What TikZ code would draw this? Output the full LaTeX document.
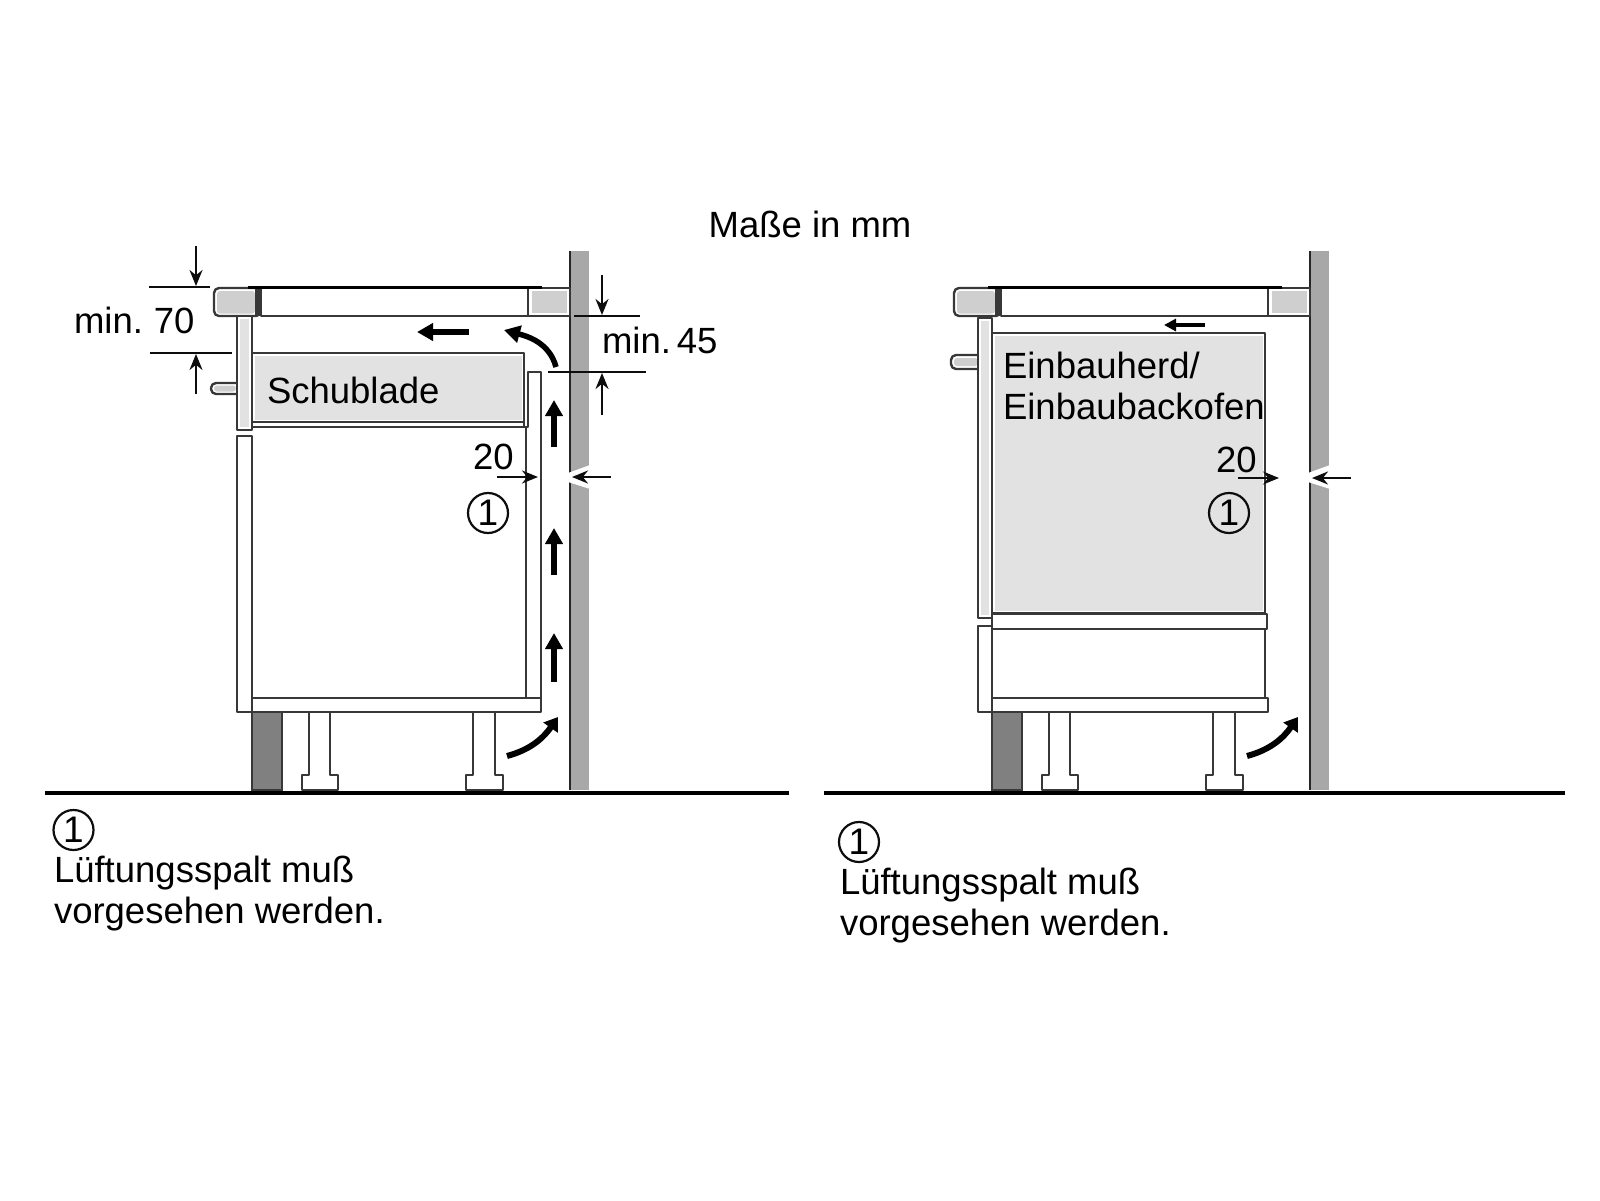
\documentclass[tikz,border=0pt]{standalone}
\usepackage{fontspec}
\setmainfont{Liberation Sans}
\usetikzlibrary{arrows.meta}
\definecolor{ln}{gray}{0.22}
\definecolor{dimk}{gray}{0.05}
\definecolor{wallg}{gray}{0.66}
\definecolor{blockg}{gray}{0.81}
\definecolor{panelg}{gray}{0.885}
\definecolor{darkg}{gray}{0.5}
\tikzset{
  part/.style={draw=ln,line width=2.4pt,fill=white,line join=round},
  plainline/.style={draw=ln,line width=2.4pt},
  dimline/.style={draw=dimk,line width=2.8pt},
  dimarrow/.style={draw=dimk,line width=2.2pt,-{Stealth[length=16pt,width=13pt]}},
  airup/.style={draw=black,line width=5.5pt,-{Triangle[length=16pt,width=17pt]}},
  airsmall/.style={draw=black,line width=6pt,-{Triangle[length=13pt,width=17pt]}},
  label/.style={anchor=base west,inner sep=0pt,outer sep=0pt,text=black,font=\fontsize{36.5}{40}\selectfont},
  numcircle/.style={circle,draw=dimk,line width=2.2pt,minimum size=40pt,inner sep=0pt,text=black,font=\fontsize{37}{38}\selectfont},
}
\newcommand{\kitchenbase}{%
  % wall
  \fill[wallg] (571,251) rectangle (589,790);
  \draw[plainline,draw=black!85] (570,251) -- (570,790);
  \fill[white] (568,473) -- (590,465) -- (590,489) -- (568,482) -- cycle;
  % hob and worktop
  \path[part,rounded corners=5pt] (214,316) -- (214,288) -- (261,288) -- (261,316) -- cycle;
  \fill[blockg,rounded corners=3pt] (217,313.5) -- (217,291) -- (255,291) -- (255,313.5) -- cycle;
  \fill[ln] (255,288) rectangle (261,316);
  \path[part] (261,288) rectangle (528,316);
  \path[part] (528,288) rectangle (570,316);
  \fill[blockg] (532,291) rectangle (567,313);
  \draw[draw=black,line width=3pt] (248,287) -- (542,287);
  % plinth
  \path[draw=ln,line width=2.4pt,fill=darkg] (252,712) rectangle (282,790);
  % feet
  \path[part] (309,712) -- (309,775) -- (302,775) -- (302,790) -- (338,790) -- (338,775) -- (330,775) -- (330,712);
  \path[part] (473,712) -- (473,775) -- (466,775) -- (466,790) -- (503,790) -- (503,775) -- (495,775) -- (495,712);
  % incoming air
  \draw[airsmall] (507,756) to[out=15,in=-125] (558,717);
}
\begin{document}
\begin{tikzpicture}[x=1pt,y=-1pt]
\useasboundingbox (0,0) rectangle (1600,1200);
\fill[white] (0,0) rectangle (1600,1200);

%% ---------- left installation ----------
\kitchenbase
\draw[draw=black,line width=4.8pt] (45,793) -- (789,793);
% handle
\path[part,rounded corners=5pt] (237,383) -- (211,383) -- (211,394) -- (237,394);
\fill[blockg,rounded corners=3pt] (214,385.5) rectangle (236,391.5);
% front panels
\path[part] (237,316) rectangle (252,430);
\fill[panelg] (240,319) rectangle (249,427);
\path[part] (237,436) rectangle (252,712);
% drawer
\path[part] (252,353) rectangle (524,422);
\fill[panelg] (254.5,356) rectangle (521.5,419.5);
\draw[plainline] (252,427) -- (526,427);
\draw[plainline] (524,422) -- (524,427);
% cabinet side / back
\path[part] (528,427) -- (528,372) -- (541,372) -- (541,698) -- (526,698) -- (526,427) -- cycle;
\path[part] (252,698) rectangle (541,712);

% air arrows
\coordinate (ua1) at (554,447); \coordinate (ub1) at (554,400);
\coordinate (ua2) at (554,575); \coordinate (ub2) at (554,528);
\coordinate (ua3) at (554,682); \coordinate (ub3) at (554,633);
\coordinate (ha) at (469,332);  \coordinate (hb) at (417,332);
\coordinate (ca) at (556,367);  \coordinate (cb) at (504,330);
\draw[airup] (ua1) -- (ub1);
\draw[airup] (ua2) -- (ub2);
\draw[airup] (ua3) -- (ub3);
\draw[airup] (ha) -- (hb);
\draw[airup] (ca) to[out=105,in=-15] (cb);

% dimensions min. 70
\coordinate (d70a) at (149,287); \coordinate (d70b) at (210,287);
\coordinate (d70c) at (150,353); \coordinate (d70d) at (232,353);
\coordinate (d70e) at (196,246); \coordinate (d70f) at (196,286);
\coordinate (d70g) at (196,394); \coordinate (d70h) at (196,354);
\draw[dimline] (d70a) -- (d70b);
\draw[dimline] (d70c) -- (d70d);
\draw[dimarrow] (d70e) -- (d70f);
\draw[dimarrow] (d70g) -- (d70h);
\node[label] (t70) at (74,333) {min.\hspace{11pt}70};

% dimensions min. 45
\coordinate (d45a) at (574,316); \coordinate (d45b) at (640,316);
\coordinate (d45c) at (548,372); \coordinate (d45d) at (646,372);
\coordinate (d45e) at (602,275); \coordinate (d45f) at (602,315);
\coordinate (d45g) at (602,415); \coordinate (d45h) at (602,373);
\draw[dimline] (d45a) -- (d45b);
\draw[dimline] (d45c) -- (d45d);
\draw[dimarrow] (d45e) -- (d45f);
\draw[dimarrow] (d45g) -- (d45h);
\node[label] (t45) at (602,353) {min.\hspace{6pt}45};

% dimension 20
\coordinate (d20a) at (497,477); \coordinate (d20b) at (538,477);
\coordinate (d20c) at (611,477); \coordinate (d20d) at (572,477);
\draw[dimarrow] (d20a) -- (d20b);
\draw[dimarrow] (d20c) -- (d20d);
\node[label] (t20a) at (473,469) {20};
\node[numcircle] (n1a) at (488,513) {1};
\node[label] (tdrawer) at (267,403) {Schublade};

%% ---------- right installation ----------
\begin{scope}[xshift=740pt]
\kitchenbase
\end{scope}
\draw[draw=black,line width=4.8pt] (824,793) -- (1565,793);
% handle
\path[part,rounded corners=5pt] (979,355) -- (951,355) -- (951,369) -- (979,369);
\fill[blockg,rounded corners=3pt] (954,358) rectangle (978,366);
% front panels
\path[part] (978,318) rectangle (992,618);
\fill[panelg] (981,321) rectangle (989,615);
\path[part] (978,626) rectangle (992,712);
% oven
\path[part] (992,333) rectangle (1265,613);
\fill[panelg] (994.5,335.5) rectangle (1262.5,610.5);
\path[part] (992,614) rectangle (1267,629);
\path[part] (992,629) rectangle (1265,698);
\path[part] (992,698) rectangle (1268,712);

\coordinate (hb2) at (1164,325); \coordinate (ha2) at (1205,325);
\draw[draw=black,line width=4pt,-{Triangle[length=12pt,width=12pt]}] (ha2) -- (hb2);

\coordinate (e20a) at (1238,478); \coordinate (e20b) at (1279,478);
\coordinate (e20c) at (1351,478); \coordinate (e20d) at (1312,478);
\draw[dimarrow] (e20a) -- (e20b);
\draw[dimarrow] (e20c) -- (e20d);
\node[label] (t20b) at (1216,472) {20};
\node[numcircle] (n1b) at (1229,513) {1};
\node[label] (toven1) at (1003,378) {Einbauherd/};
\node[label] (toven2) at (1003,419) {Einbaubackofen};

%% ---------- texts ----------
\node[label,anchor=base] (ttitle) at (810,237) {Maße in mm};
\node[numcircle] (n2a) at (73.5,830) {1};
\node[label] (note1a) at (54,882) {Lüftungsspalt muß};
\node[label] (note1b) at (54,923) {vorgesehen werden.};
\node[numcircle] (n2b) at (859,842) {1};
\node[label] (note2a) at (840,894) {Lüftungsspalt muß};
\node[label] (note2b) at (840,935) {vorgesehen werden.};
\end{tikzpicture}
\end{document}
